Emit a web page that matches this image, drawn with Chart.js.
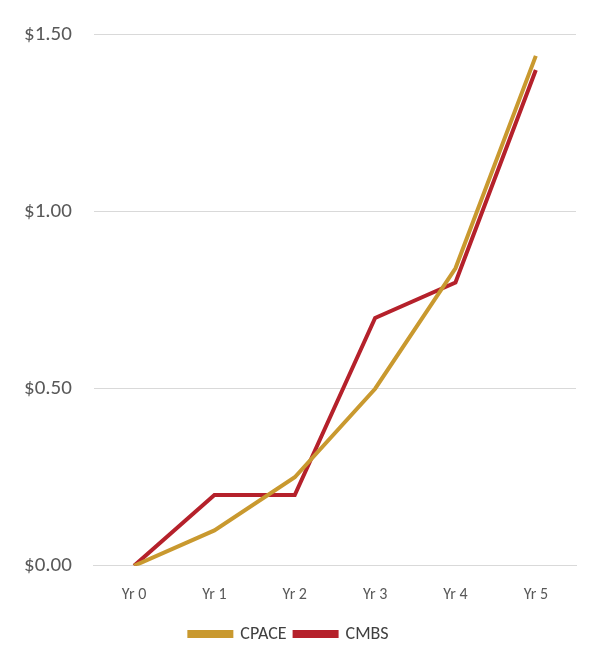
<!DOCTYPE html>
<html>
<head>
<meta charset="utf-8">
<script src="https://cdn.jsdelivr.net/npm/chart.js@4/dist/chart.umd.min.js"></script>
<style>
  html, body { margin: 0; padding: 0; background: #fff; }
  #wrap { width: 598px; height: 671px; }
</style>
</head>
<body>
<div id="wrap"><canvas id="chart"></canvas></div>
<script>
const categories = ["Yr 0", "Yr 1", "Yr 2", "Yr 3", "Yr 4", "Yr 5"];
const cpace = [0, 0.10, 0.25, 0.50, 0.84, 1.44];
const cmbs = [0, 0.20, 0.20, 0.70, 0.80, 1.40];

new Chart(document.getElementById("chart"), {
    type: "line",
    data: {
        labels: categories,
        datasets: [
            { label: "CPACE", data: cpace, borderColor: "#C9992F", backgroundColor: "#C9992F", borderWidth: 4, pointRadius: 0, tension: 0 },
            { label: "CMBS", data: cmbs, borderColor: "#B5212B", backgroundColor: "#B5212B", borderWidth: 4, pointRadius: 0, tension: 0 }
        ]
    },
    options: {
        responsive: true,
        maintainAspectRatio: false,
        animation: false,
        layout: { padding: { top: 14, right: 22, left: 2, bottom: 18 } },
        scales: {
            x: {
                offset: true,
                grid: { display: false },
                border: { color: "#D9D9D9" },
                ticks: { color: "#595959", font: { family: "Calibri, Carlito, 'Liberation Sans', sans-serif", size: 16 }, padding: 12 }
            },
            y: {
                min: 0, max: 1.5,
                ticks: {
                    stepSize: 0.5, color: "#595959", padding: 22,
                    font: { family: "Calibri, Carlito, 'Liberation Sans', sans-serif", size: 21 },
                    callback: v => "$" + v.toFixed(2)
                },
                grid: { color: "#D9D9D9", drawTicks: false },
                border: { display: false }
            }
        },
        plugins: {
            legend: {
                position: "bottom",
                labels: {
                    color: "#404040", boxWidth: 42, boxHeight: 4, padding: 8,
                    font: { family: "Calibri, Carlito, 'Liberation Sans', sans-serif", size: 18 }
                }
            },
            tooltip: { enabled: false }
        }
    }
});
</script>
</body>
</html>
